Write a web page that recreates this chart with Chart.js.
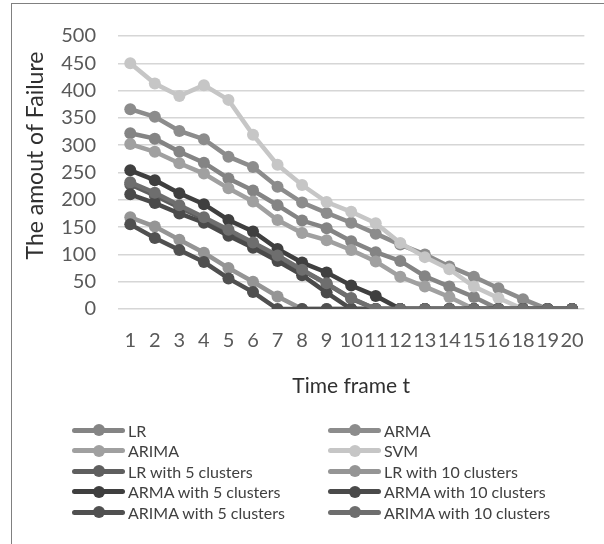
<!DOCTYPE html>
<html>
<head>
<meta charset="utf-8">
<script src="https://cdn.jsdelivr.net/npm/chart.js@4.4.1/dist/chart.umd.min.js"></script>
<style>
  body { margin: 0; width: 604px; height: 544px; overflow: hidden; background: #fff; font-family: Lato, sans-serif; }
  #frame { position: absolute; left: 11px; top: 3px; width: 700px; height: 700px; border-left: 1px solid #808080; border-top: 1px solid #808080; }
  #wrap { position: absolute; left: 0; top: 0; width: 604px; height: 544px; }
  #legend { position: absolute; left: 72px; top: 420px; display: grid; grid-template-columns: 256px 230px; grid-auto-rows: 20.5px; font-size: 16px; color: #404040; }
  .item { display: flex; align-items: center; white-space: nowrap; }
  .sym { position: relative; width: 53px; height: 12px; margin-right: 3px; flex: none; }
  .sym .ln { position: absolute; left: 0; right: 0; top: 3.5px; height: 5px; border-radius: 2.5px; }
  .sym .dot { position: absolute; left: 20.5px; top: 0; width: 12px; height: 12px; border-radius: 50%; }
</style>
</head>
<body>
<div id="frame"></div>
<div id="wrap"><canvas id="myChart" width="604" height="544"></canvas></div>
<div id="legend"></div>
<script>
var timeFrames = ["1", "2", "3", "4", "5", "6", "7", "8", "9", "10", "11", "12", "13", "14", "15", "16", "18", "19", "20"];

var seriesNames = ["LR", "ARMA", "ARIMA", "SVM", "LR with 5 clusters", "LR with 10 clusters",
    "ARMA with 5 clusters", "ARMA with 10 clusters", "ARIMA with 5 clusters", "ARIMA with 10 clusters"];

var lr      = [322, 312, 288, 268, 239, 217, 190, 162, 148, 124, 104, 88, 60, 41, 22, 0, 0, 0, 0];
var arma    = [366, 352, 326, 311, 279, 260, 224, 195, 176, 158, 138, 118, 100, 78, 59, 38, 18, 0, 0];
var arima   = [302, 288, 267, 248, 221, 197, 163, 139, 126, 108, 87, 59, 41, 22, 0, 0, 0, 0, 0];
var svm     = [450, 413, 390, 410, 383, 319, 264, 227, 196, 178, 157, 121, 95, 73, 41, 20, 0, 0, 0];
var lr5     = [228, 208, 186, 165, 141, 119, 96, 71, 46, 19, 0, 0, 0, 0, 0, 0, 0, 0, 0];
var lr10    = [168, 151, 127, 103, 75, 50, 23, 0, 0, 0, 0, 0, 0, 0, 0, 0, 0, 0, 0];
var arma5   = [254, 236, 212, 192, 163, 142, 110, 85, 67, 43, 24, 0, 0, 0, 0, 0, 0, 0, 0];
var arma10  = [210, 194, 175, 158, 134, 112, 88, 62, 30, 0, 0, 0, 0, 0, 0, 0, 0, 0, 0];
var arima5  = [155, 130, 108, 86, 56, 31, 0, 0, 0, 0, 0, 0, 0, 0, 0, 0, 0, 0, 0];
var arima10 = [232, 213, 190, 168, 145, 122, 98, 72, 47, 20, 0, 0, 0, 0, 0, 0, 0, 0, 0];

var yTicks = { min: 0, max: 500, step: 50 };
var xTitle = "Time frame t";
var yTitle = "The amout of Failure";

var seriesValues = [lr, arma, arima, svm, lr5, lr10, arma5, arma10, arima5, arima10];
var seriesColors = ["#848484", "#8c8c8c", "#a0a0a0", "#c6c6c6", "#5f5f5f", "#959595",
    "#3f3f3f", "#4a4a4a", "#505050", "#6e6e6e"];

var datasets = seriesNames.map((name, i) => ({
    label: name,
    data: seriesValues[i],
    borderColor: seriesColors[i],
    backgroundColor: seriesColors[i],
    borderWidth: 4.5,
    pointRadius: 6,
    pointHoverRadius: 6,
    pointBorderWidth: 0,
    tension: 0,
    fill: false,
    order: seriesNames.length - i   // later series drawn on top, like excel
}));

// y title drawn by hand, it sits a bit above the middle of the axis
var yTitlePlugin = {
    id: 'yTitle',
    afterDraw: chart => {
        let ctx = chart.ctx;
        let area = chart.chartArea;
        ctx.save();
        ctx.translate(36, (area.top + area.bottom) / 2 - 17);
        ctx.rotate(-Math.PI / 2);
        ctx.font = "23px Lato";
        ctx.fillStyle = "#303030";
        ctx.textAlign = "center";
        ctx.textBaseline = "middle";
        ctx.fillText(yTitle, 0, 0);
        ctx.restore();
    }
};

createChart = () => {
    chart = new Chart(document.getElementById("myChart"), {
        type: 'line',
        data: { labels: timeFrames, datasets: datasets },
        plugins: [yTitlePlugin],
        options: {
            responsive: false,
            animation: false,
            devicePixelRatio: 1,
            layout: { padding: { left: 0, top: 36, right: 12, bottom: 145 } },
            plugins: { legend: { display: false }, tooltip: { enabled: false } },
            scales: {
                x: {
                    offset: true,
                    grid: { display: false, drawTicks: false },
                    border: { display: false },
                    ticks: { font: { family: "Lato", size: 20 }, color: "#595959", padding: 20, maxRotation: 0, autoSkip: false },
                    title: { display: true, text: xTitle, font: { family: "Lato", size: 21 }, color: "#303030", padding: 0 },
                    afterFit: s => { s.height = 90; }
                },
                y: {
                    min: yTicks.min,
                    max: yTicks.max,
                    ticks: { stepSize: yTicks.step, font: { family: "Lato", size: 20 }, color: "#595959", padding: 22 },
                    grid: { color: "#d6d6d6", lineWidth: 1.5, drawTicks: false },
                    border: { display: false },
                    afterFit: s => { s.width = 118; }
                }
            }
        }
    });
}

createChart();

// html legend in two columns, same order as excel
var legend = document.getElementById("legend");
chart.data.datasets.forEach(ds => {
    let item = document.createElement("div");
    item.className = "item";
    item.innerHTML = '<span class="sym"><span class="ln" style="background:' + ds.borderColor + '"></span>' +
        '<span class="dot" style="background:' + ds.borderColor + '"></span></span><span>' + ds.label + '</span>';
    legend.appendChild(item);
});
</script>
</body>
</html>
